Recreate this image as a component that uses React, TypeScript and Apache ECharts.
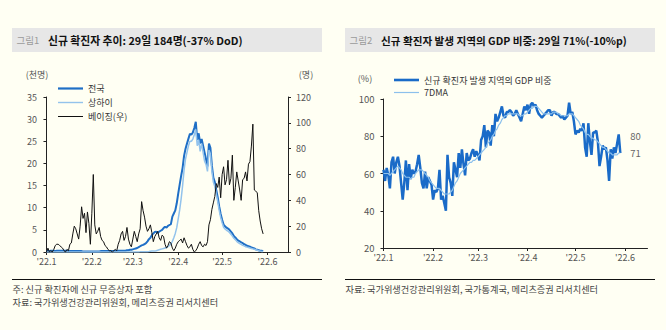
import React, { useEffect, useRef } from "react";
import * as echarts from "echarts";

const FONT = "'Noto Sans CJK KR', 'Noto Sans', sans-serif";
const BG = "#fffff3";

// Day index 0 = 2022-01-01 (daily data through 2022-05-29)
const monthTickDays = [0, 31, 59, 90, 120, 151];
const monthTickLabels = ["'22.1", "'22.2", "'22.3", "'22.4", "'22.5", "'22.6"];

// 신규 확진자 (천명) – 전국
const nationalK = [
  0.2, 0.2, 0.2, 0.3, 0.3, 0.3, 0.2, 0.3, 0.3, 0.3, 0.3, 0.3, 0.3, 0.3, 0.3, 0.2, 0.2, 0.2, 0.2, 0.2,
  0.2, 0.2, 0.2, 0.2, 0.2, 0.1, 0.1, 0.1, 0.1, 0.1, 0.1,
  0.1, 0.1, 0.1, 0.1, 0.1, 0.1, 0.2, 0.2, 0.2, 0.2, 0.2, 0.2, 0.2, 0.2, 0.2, 0.2, 0.2, 0.2, 0.3, 0.3,
  0.3, 0.3, 0.3, 0.3, 0.4, 0.4, 0.5, 0.5,
  0.6, 0.7, 0.8, 0.9, 1.1, 1.3, 1.5, 1.6, 1.8, 2.0, 2.4, 2.9, 3.2, 3.8, 4.2, 4.5, 4.6, 4.3, 4.6, 4.8,
  5.0, 5.4, 5.7, 5.5, 5.9, 6.1, 6.3, 8.0, 8.7, 9.4, 11.0,
  13.2, 15.2, 17.2, 19.0, 21.7, 23.3, 24.5, 25.6, 26.7, 26.5, 27.0, 28.0, 29.4, 25.3, 26.8, 24.5, 25.5,
  24.0, 22.5, 21.0, 19.3, 24.5, 23.5, 19.5, 16.8, 15.8, 14.0, 12.3, 10.3, 8.6,
  7.3, 6.2, 5.8, 5.5, 5.3, 5.0, 4.6, 4.2, 3.6, 3.3, 2.9, 2.6, 2.4, 2.2, 2.0, 1.8, 1.6, 1.4, 1.3, 1.2,
  1.0, 0.9, 0.8, 0.6, 0.5, 0.4, 0.3, 0.3, 0.18,
];

// 상하이 (천명)
const shanghaiK = [
  0, 0, 0, 0, 0, 0, 0, 0, 0, 0, 0, 0, 0, 0, 0, 0, 0, 0, 0, 0, 0, 0, 0, 0, 0, 0, 0, 0, 0, 0, 0,
  0, 0, 0, 0, 0, 0, 0, 0, 0, 0, 0, 0, 0, 0, 0, 0, 0, 0, 0, 0, 0, 0, 0, 0, 0.01, 0.01, 0.01, 0.01,
  0.0, 0.01, 0.01, 0.02, 0.02, 0.03, 0.05, 0.06, 0.07, 0.08, 0.08, 0.1, 0.15, 0.2, 0.2, 0.2, 0.3, 0.4,
  0.5, 0.6, 0.7, 0.8, 0.9, 1.0, 1.2, 1.5, 1.8, 2.4, 3.2, 4.2, 5.5,
  7.5, 9.5, 12.0, 15.0, 18.5, 21.0, 22.5, 24.0, 25.0, 25.0, 25.5, 26.5, 27.7, 24.0, 25.3, 22.7, 24.5,
  22.5, 20.5, 19.8, 18.2, 23.0, 22.2, 18.3, 15.8, 14.8, 13.0, 11.4, 9.4, 7.8,
  6.6, 5.6, 5.2, 4.9, 4.7, 4.4, 4.0, 3.6, 3.1, 2.8, 2.4, 2.1, 1.9, 1.7, 1.5, 1.4, 1.2, 1.1, 1.0, 0.9,
  0.8, 0.7, 0.6, 0.5, 0.4, 0.3, 0.2, 0.1, 0.1,
];

// 베이징(우) (명)
const beijing = [
  0, 3, 0, 1, 0, 2, 5, 6, 6, 5, 4, 3, 1, 0, 2, 1, 6, 7, 14, 20, 18, 14, 10, 20, 35, 26, 30, 15, 31, 22, 6,
  30, 60, 21, 14, 16, 19, 12, 9, 8, 5, 4, 2, 1, 1, 0, 1, 2, 1, 6, 9, 14, 16, 9, 12, 19, 10, 6, 4,
  10, 16, 12, 8, 14, 18, 39, 32, 27, 20, 16, 18, 21, 15, 8, 12, 14, 16, 11, 9, 13, 12, 6, 3, 5, 8, 7, 3, 1, 3, 6,
  8, 9, 10, 7, 11, 8, 5, 3, 4, 6, 2, 0, 1, 3, 6, 8, 5, 4, 6, 5, 8, 21, 25, 33, 38, 43, 53, 50, 58, 42,
  60, 66, 52, 56, 71, 52, 57, 75, 40, 50, 62, 55, 48, 40, 56, 57, 62, 55, 68, 70, 82, 99, 48, 47, 46, 32, 24, 18, 14,
];

// 신규 확진자 발생 지역의 GDP 비중 (%)
const gdpShare = [
  62, 56, 63, 59, 52, 66, 69, 60, 66, 69, 64, 55, 46, 55, 67, 51, 65, 57, 62, 60, 61, 65, 70, 63, 55, 52, 61, 52, 58, 56, 54,
  46, 51, 50, 52, 62, 46, 48, 44, 40, 70, 58, 55, 48, 66, 62, 58, 71, 63, 73, 65, 59, 71, 67, 68, 71, 73, 69, 72,
  70, 67, 78, 80, 86, 74, 83, 82, 75, 86, 80, 92, 88, 90, 93, 96, 91, 90, 93, 93, 94, 93, 91, 92, 94, 92, 90, 88, 92, 96, 94,
  97, 92, 97, 98, 96, 97, 94, 92, 91, 90, 91, 92, 93, 94, 94, 91, 93, 93, 92, 92, 91, 90, 91, 89, 90, 91, 98, 92, 93, 88,
  81, 83, 82, 84, 83, 87, 74, 69, 87, 77, 70, 82, 82, 83, 77, 64, 69, 75, 73, 74, 67, 56, 73, 68, 74, 71, 76, 81, 71,
];

// 7DMA (%)
const gdpShare7dma = [
  60, 60, 60, 60, 59, 60, 61, 62, 63, 64, 63, 62, 60, 59, 58, 58, 58, 57, 58, 58, 60, 61, 62, 62, 62, 61, 60, 59, 58, 56, 55,
  54, 53, 52, 52, 52, 51, 50, 49, 49, 49, 49, 50, 51, 53, 55, 56, 58, 60, 61, 62, 63, 64, 65, 66, 66, 67, 67, 68,
  69, 70, 71, 72, 73, 74, 76, 77, 78, 80, 81, 83, 84, 86, 87, 89, 90, 91, 91, 92, 92, 92, 92, 92, 92, 92, 91, 91, 91, 92, 92,
  93, 94, 95, 95, 96, 96, 96, 95, 94, 93, 92, 92, 92, 92, 92, 92, 93, 93, 93, 92, 92, 91, 91, 91, 91, 91, 92, 92, 92, 91,
  90, 89, 88, 86, 85, 84, 82, 81, 81, 80, 79, 79, 78, 78, 77, 76, 75, 74, 74, 73, 72, 71, 71, 70, 70, 70, 70, 71, 71,
];

const endLabels = [80, 71];

const leftTitle = "신규 확진자 추이: 29일 184명(-37% DoD)";
const rightTitle = "신규 확진자 발생 지역의 GDP 비중: 29일 71%(-10%p)";
const leftNote1 = "주: 신규 확진자에 신규 무증상자 포함";
const leftNote2 = "자료: 국가위생건강관리위원회, 메리츠증권 리서치센터";
const rightNote = "자료: 국가위생건강관리위원회, 국가통계국, 메리츠증권 리서치센터";

const toPairs = (arr: number[]) => arr.map((v, i) => [i, v]);
const lineIcon = (h: number) => `path://M0,0h25v${h}h-25z`;

const xAxisCfg = (gridIndex: number, min: number) => ({
  type: "value",
  gridIndex,
  min,
  max: 165,
  axisLine: { show: true, lineStyle: { color: "#222", width: 1 } },
  axisTick: { show: true, customValues: monthTickDays, length: 3, lineStyle: { color: "#222" } },
  axisLabel: {
    customValues: monthTickDays,
    formatter: (v: number) => {
      const i = monthTickDays.indexOf(Math.round(v));
      return i >= 0 ? monthTickLabels[i] : "";
    },
    color: "#555",
    fontSize: 9,
    margin: 5,
    fontFamily: FONT,
  },
  splitLine: { show: false },
});

const yAxisCfg = (gridIndex: number, position: string, min: number, max: number, interval: number, margin: number, fontSize: number) => ({
  type: "value",
  gridIndex,
  position,
  min,
  max,
  interval,
  axisLine: { show: true, lineStyle: { color: "#222", width: 1 } },
  axisTick: { show: true, length: 3, lineStyle: { color: "#222" } },
  axisLabel: { color: "#555", fontSize, margin, fontFamily: FONT },
  splitLine: { show: false },
});

export default function App() {
  const ref = useRef<HTMLDivElement>(null);
  useEffect(() => {
    document.body.style.margin = "0";
    document.body.style.background = BG;
    const chart = echarts.init(ref.current!, null, { renderer: "svg" });
    const option: any = {
      animation: false,
      backgroundColor: BG,
      textStyle: { fontFamily: FONT },
      grid: [
        { left: 45, top: 97, width: 243, height: 155 },
        { left: 383.5, top: 99, width: 264, height: 149 },
      ],
      xAxis: [xAxisCfg(0, -1), xAxisCfg(1, 0)],
      yAxis: [
        yAxisCfg(0, "left", 0, 35, 5, 8, 9),
        yAxisCfg(0, "right", 0, 120, 20, 8, 9),
        yAxisCfg(1, "left", 20, 100, 20, 9, 9.5),
      ],
      legend: [
        {
          data: [
            { name: "전국", icon: lineIcon(2.2) },
            { name: "상하이", icon: lineIcon(1.4) },
            { name: "베이징(우)", icon: lineIcon(1) },
          ],
          orient: "vertical",
          left: 53,
          top: 79,
          itemWidth: 25,
          itemHeight: 10,
          itemGap: 5,
          textStyle: { fontSize: 9, color: "#333", fontFamily: FONT },
        },
        {
          data: [
            { name: "신규 확진자 발생 지역의 GDP 비중", icon: lineIcon(2.6) },
            { name: "7DMA", icon: lineIcon(1.2) },
          ],
          orient: "vertical",
          left: 389,
          top: 70.5,
          itemWidth: 25,
          itemHeight: 10,
          itemGap: 3.5,
          textStyle: { fontSize: 9, color: "#333", fontFamily: FONT },
        },
      ],
      series: [
        {
          name: "전국",
          type: "line",
          xAxisIndex: 0,
          yAxisIndex: 0,
          data: toPairs(nationalK),
          symbol: "none",
          color: "#1f6fc6",
          lineStyle: { color: "#1f6fc6", width: 2 },
        },
        {
          name: "상하이",
          type: "line",
          xAxisIndex: 0,
          yAxisIndex: 0,
          data: toPairs(shanghaiK),
          symbol: "none",
          color: "#93c3ec",
          lineStyle: { color: "#93c3ec", width: 1.5 },
        },
        {
          name: "베이징(우)",
          type: "line",
          xAxisIndex: 0,
          yAxisIndex: 1,
          data: toPairs(beijing),
          symbol: "none",
          color: "#111",
          lineStyle: { color: "#111", width: 1 },
        },
        {
          name: "신규 확진자 발생 지역의 GDP 비중",
          type: "line",
          xAxisIndex: 1,
          yAxisIndex: 2,
          data: toPairs(gdpShare),
          symbol: "none",
          color: "#1a6bc8",
          lineStyle: { color: "#1a6bc8", width: 2.5 },
          markPoint: {
            symbol: "circle",
            symbolSize: 0,
            label: { show: true, position: "right", distance: 10, color: "#666", fontSize: 9.5, fontFamily: FONT, formatter: "{c}" },
            data: endLabels.map((v) => ({ coord: [gdpShare.length - 1, v], value: v })),
          },
        },
        {
          name: "7DMA",
          type: "line",
          xAxisIndex: 1,
          yAxisIndex: 2,
          data: toPairs(gdpShare7dma),
          symbol: "none",
          color: "#8cc0ec",
          lineStyle: { color: "#8cc0ec", width: 1.2 },
        },
      ],
      graphic: [
        { type: "rect", shape: { x: 12, y: 28, width: 310, height: 24 }, style: { fill: "#e7e7e7" } },
        { type: "rect", shape: { x: 345, y: 28, width: 310, height: 24 }, style: { fill: "#e7e7e7" } },
        { type: "text", x: 16.5, y: 40, style: { text: "그림1", fill: "#9a9a9a", fontSize: 9.5, fontFamily: FONT, verticalAlign: "middle" } },
        { type: "text", x: 48, y: 40, style: { text: leftTitle, fill: "#111", fontSize: 10.8, fontWeight: "bold", fontFamily: FONT, verticalAlign: "middle" } },
        { type: "text", x: 349.5, y: 40, style: { text: "그림2", fill: "#9a9a9a", fontSize: 9.5, fontFamily: FONT, verticalAlign: "middle" } },
        { type: "text", x: 381, y: 40, style: { text: rightTitle, fill: "#111", fontSize: 10.6, fontWeight: "bold", fontFamily: FONT, verticalAlign: "middle" } },
        { type: "text", x: 37, y: 74, style: { text: "(천명)", fill: "#555", fontSize: 9, fontFamily: FONT, align: "center", verticalAlign: "middle" } },
        { type: "text", x: 306, y: 74, style: { text: "(명)", fill: "#555", fontSize: 9, fontFamily: FONT, align: "center", verticalAlign: "middle" } },
        { type: "text", x: 365, y: 78, style: { text: "(%)", fill: "#555", fontSize: 9, fontFamily: FONT, align: "center", verticalAlign: "middle" } },
        { type: "line", shape: { x1: 12, y1: 279.5, x2: 322, y2: 279.5 }, style: { stroke: "#111", lineWidth: 1 } },
        { type: "line", shape: { x1: 345, y1: 279.5, x2: 655, y2: 279.5 }, style: { stroke: "#111", lineWidth: 1 } },
        { type: "text", x: 12.5, y: 289, style: { text: leftNote1, fill: "#444", fontSize: 9.2, fontFamily: FONT, verticalAlign: "middle" } },
        { type: "text", x: 12.5, y: 301.5, style: { text: leftNote2, fill: "#444", fontSize: 9.2, fontFamily: FONT, verticalAlign: "middle" } },
        { type: "text", x: 345.5, y: 289, style: { text: rightNote, fill: "#444", fontSize: 9.2, fontFamily: FONT, verticalAlign: "middle" } },
      ],
    };
    chart.setOption(option);
    return () => chart.dispose();
  }, []);
  return <div ref={ref} style={{ position: "absolute", left: 0, top: 0, width: 666, height: 330 }} />;
}
